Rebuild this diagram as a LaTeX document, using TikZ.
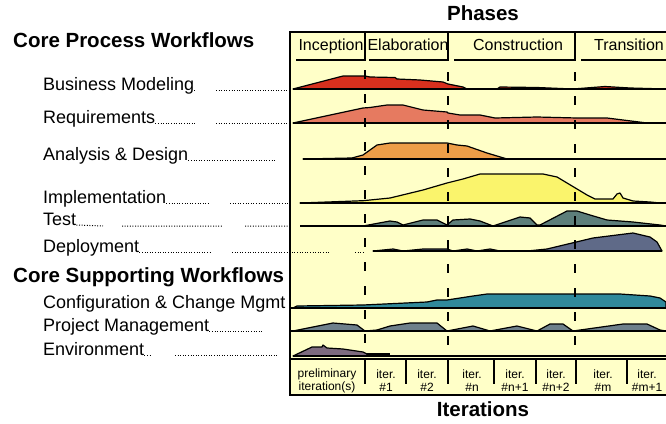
\documentclass[tikz,border=0pt]{standalone}
\usepackage{fontspec}
\setmainfont{Liberation Sans}
\usepackage{xcolor}

\definecolor{chartbg}{HTML}{FFFFC8}
\definecolor{bizred}{HTML}{D8301E}
\definecolor{reqsalmon}{HTML}{E67A60}
\definecolor{anaorange}{HTML}{EE9E48}
\definecolor{implyellow}{HTML}{FAF46C}
\definecolor{testgreen}{HTML}{5D7E7A}
\definecolor{deployblue}{HTML}{5F6A88}
\definecolor{configteal}{HTML}{30899B}
\definecolor{pmgray}{HTML}{6E808B}
\definecolor{envmauve}{HTML}{7E6B80}

\begin{document}
\begin{tikzpicture}[x=1pt, y=-1pt,
    title/.style={font=\fontsize{20.5}{22}\selectfont\bfseries, inner sep=0pt, anchor=base},
    flow/.style={font=\fontsize{18}{20}\selectfont, inner sep=0pt, anchor=base west},
    phase/.style={font=\fontsize{16}{18}\selectfont, inner sep=0pt, anchor=base},
    iter/.style={font=\fontsize{12}{13}\selectfont, inner sep=0pt, align=center},
    leader/.style={line width=1pt, dash pattern=on 1pt off 1.6pt},
    hump/.style={draw=black, line width=1.2pt, line join=round},
    rowline/.style={line width=1.8pt},
    milestone/.style={line width=1.8pt, dash pattern=on 9pt off 15pt},
    divider/.style={line width=1.3pt},
    bigdivider/.style={line width=2.6pt}
]

\useasboundingbox (0,0) rectangle (666,423);

% Chart frame
\filldraw[fill=chartbg, line width=1.6pt] (290,32) rectangle (672,395);

% Titles
\node[title] (phases) at (483,20) {Phases};
\node[title] (iterations) at (483,416) {Iterations};
\node[title, anchor=base west] (coreproc) at (13,47) {Core Process Workflows};
\node[title, anchor=base west] (coresupp) at (13,282) {Core Supporting Workflows};

% Phase header
\node[phase] (inception) at (331,50) {Inception};
\node[phase] (elaboration) at (408,50) {Elaboration};
\node[phase] (construction) at (518,50) {Construction};
\node[phase] (transition) at (629,50) {Transition};
\draw[line width=1.5pt] (296,60) -- (365,60) -- (365,33);
\draw[line width=1.5pt] (369,60) -- (448,60) -- (448,33);
\draw[line width=1.5pt] (454,60) -- (575,60) -- (575,33);
\draw[line width=1.5pt] (581,60) -- (672,60);

% Workflow labels
\node[flow] (bizmod) at (43,90) {Business Modeling};
\node[flow] (reqs) at (43,123) {Requirements};
\node[flow] (anadesign) at (43,160) {Analysis \& Design};
\node[flow] (impl) at (43,203) {Implementation};
\node[flow] (test) at (43,225) {Test};
\node[flow] (deploy) at (43,252) {Deployment};
\node[flow] (config) at (43,308) {Configuration \& Change Mgmt};
\node[flow] (projmgmt) at (43,331) {Project Management};
\node[flow] (envir) at (43,355) {Environment};

% Row entry points
\coordinate (bizmod-in) at (290,90);
\coordinate (reqs-in) at (290,123);
\coordinate (anadesign-in) at (275,160);
\coordinate (impl-in) at (290,203);
\coordinate (test-in) at (290,226);
\coordinate (deploy-in) at (290,252);
\coordinate (projmgmt-in) at (263,331);
\coordinate (envir-in) at (278,355);

% Leaders
\draw[leader] (bizmod.base east) -- ++(2,0) (216,90) -- (bizmod-in);
\draw[leader] (reqs.base east) -- (197,123) (216,123) -- (reqs-in);
\draw[leader] (anadesign.base east) -- (anadesign-in);
\draw[leader] (impl.base east) -- (210,203) (230,203) -- (impl-in);
\draw[leader] (test.base east) -- (103,226) (122,226) -- (222,226) (245,226) -- (test-in);
\draw[leader] (deploy.base east) -- (212,252) (232,252) -- (deploy-in) -- ++(40,0) (355,252) -- (365,252);
\draw[leader] (projmgmt.base east) -- (projmgmt-in);
\draw[leader] (envir.base east) -- ++(6,0) (175,355) -- (envir-in);

% Humps
\filldraw[hump, fill=bizred] (293,89) -- (343,76) -- (365,76) -- (370,77) -- (395,77.5) -- (397,79) -- (420,80) -- (443,82) -- (448,84) -- (453,85) -- (463,87) -- (467,89) -- (497,89) -- (500,87) -- (537,87.5) -- (573,89) -- (605,86.5) -- (630,88) -- (666,89) -- cycle;
\draw[rowline] (293,89) -- (672,89);

\filldraw[hump, fill=reqsalmon] (293,123) -- (363,108) -- (370,107.5) -- (387,105) -- (403,105) -- (423,110) -- (447,112) -- (448,113) -- (460,115) -- (480,115) -- (495,118) -- (537,117) -- (577,118) -- (607,118) -- (623,120) -- (647,123) -- (666,123) -- cycle;
\draw[rowline] (293,123) -- (672,123);

\filldraw[hump, fill=anaorange] (303,159) -- (352,158) -- (363,155) -- (377,145) -- (390,143) -- (447,143) -- (457,145) -- (467,146) -- (487,153) -- (507,159) -- cycle;
\draw[rowline] (303,159) -- (672,159);

\filldraw[hump, fill=implyellow] (300,203) -- (363,200.7) -- (390,198) -- (423,190) -- (447,183) -- (463,179) -- (480,174) -- (543,174) -- (557,177) -- (567,183) -- (577,189) -- (587,195) -- (595,199) -- (613,199) -- (617,194) -- (620,193) -- (623,198) -- (633,201) -- (650,202) -- (660,203) -- cycle;
\draw[rowline] (300,203) -- (672,203);

\filldraw[hump, fill=testgreen] (363,226) -- (390,221) -- (397,222) -- (403,225) -- (423,220) -- (437,220) -- (447,225) -- (453,220) -- (470,219) -- (480,221) -- (493,226) -- (520,217) -- (530,218) -- (537,225) -- (540,225) -- (567,211) -- (577,211) -- (590,215) -- (607,220) -- (633,222) -- (660,225) -- (666,226) -- cycle;
\draw[rowline] (300,226) -- (672,226);

\filldraw[hump, fill=deployblue] (373,251) -- (393,249) -- (403,251) -- (423,249) -- (447,249) -- (453,251) -- (467,249) -- (477,251) -- (490,249) -- (500,251) -- (527,251) -- (547,249) -- (593,238) -- (633,233) -- (650,237) -- (657,242) -- (662,251) -- cycle;
\draw[rowline] (373,251) -- (662,251);

\filldraw[hump, fill=configteal] (293,308) -- (297,306) -- (363,305) -- (427,302) -- (437,300) -- (447,300) -- (473,296) -- (487,294) -- (620,294) -- (650,296) -- (660,298) -- (666,302) -- (666,308) -- cycle;
\draw[rowline] (290,308) -- (672,308);

\filldraw[hump, fill=pmgray] (293,331) -- (333,323) -- (357,325) -- (365,331) -- (377,330) -- (390,326) -- (410,323) -- (437,323) -- (447,331) -- (473,326) -- (490,331) -- (517,326) -- (537,331) -- (550,324) -- (563,324) -- (573,331) -- (623,324) -- (647,324) -- (660,330) -- (666,331) -- cycle;
\draw[rowline] (290,331) -- (672,331);

\filldraw[hump, fill=envmauve] (293,356) -- (312,347) -- (322,347) -- (323,345) -- (327,348) -- (343,349) -- (363,352) -- (367,354) -- (367,356) -- cycle;
\draw[rowline] (367,354) -- (390,354);
\draw[line width=1.2pt] (293,356) -- (672,356);

% Milestones
\draw[milestone] (365,70) -- (365,352);
\draw[milestone] (448,72) -- (448,356);
\draw[milestone] (575,72) -- (575,356);

% Iterations
\draw[line width=2pt] (290,359) -- (672,359);
\draw[bigdivider] (365,360) -- (365,384);
\draw[divider] (406,360) -- (406,384);
\draw[bigdivider] (448,360) -- (448,384);
\draw[divider] (494,360) -- (494,384);
\draw[divider] (536,360) -- (536,384);
\draw[bigdivider] (576,360) -- (576,384);
\draw[divider] (627,360) -- (627,384);

\node[iter] (itpre) at (327,381) {preliminary\\iteration(s)};
\node[iter] (itone) at (386,381) {iter.\\\#1};
\node[iter] (ittwo) at (427,381) {iter.\\\#2};
\node[iter] (itn) at (472,381) {iter.\\\#n};
\node[iter] (itnone) at (515,381) {iter.\\\#n+1};
\node[iter] (itntwo) at (556,381) {iter.\\\#n+2};
\node[iter] (itm) at (603,381) {iter.\\\#m};
\node[iter] (itmone) at (647,381) {iter.\\\#m+1};

\end{tikzpicture}
\end{document}
